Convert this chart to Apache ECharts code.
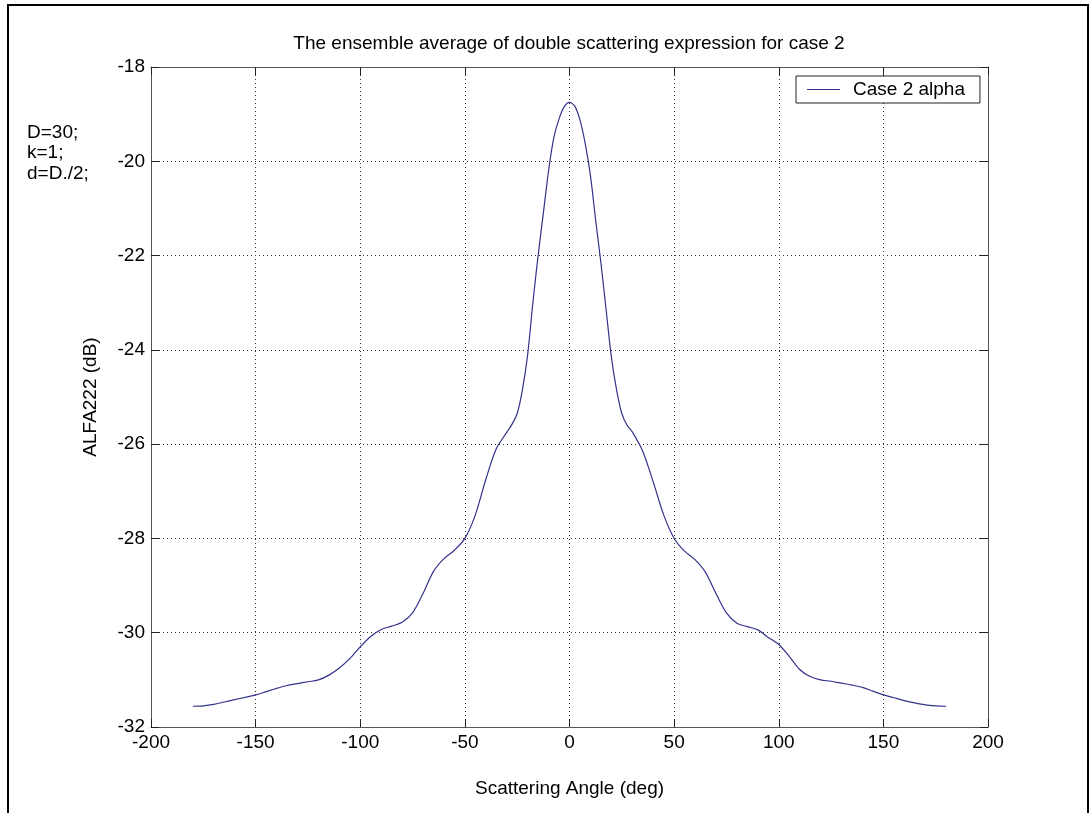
<!DOCTYPE html>
<html>
<head>
<meta charset="utf-8">
<script src="https://cdn.jsdelivr.net/npm/echarts@6/dist/echarts.min.js"></script>
<style>
  html, body { margin: 0; padding: 0; background: #fff; }
  #chart { width: 1092px; height: 813px; }
</style>
</head>
<body>
<div id="chart"></div>
<script>
// Scattering angle (deg) and ensemble-averaged double scattering term (dB)
const angle = [
  -180, -175, -170, -165, -160, -155, -150, -145, -140, -135, -130, -125, -120,
  -115, -110, -105, -100, -95, -90, -85, -80, -75, -70, -65, -60, -55, -50,
  -45, -40, -35, -30, -27.5, -25, -22.5, -20, -17.5, -15, -12.5, -10, -7.5,
  -5, -2.5, 0, 2.5, 5, 7.5, 10, 12.5, 15, 17.5, 20, 22.5, 25, 27.5, 30, 35,
  40, 45, 50, 55, 60, 65, 70, 75, 80, 85, 90, 95, 100, 105, 110, 115, 120,
  125, 130, 135, 140, 145, 150, 155, 160, 165, 170, 175, 180
];
const alfa222 = [
  -31.56, -31.55, -31.52, -31.47, -31.42, -31.37, -31.32, -31.25, -31.18, -31.12, -31.08, -31.04, -31.00,
  -30.90, -30.75, -30.55, -30.30, -30.08, -29.93, -29.86, -29.78, -29.58, -29.17, -28.70, -28.43, -28.25, -28.00,
  -27.50, -26.75, -26.10, -25.75, -25.58, -25.35, -24.85, -24.10, -23.00, -22.00, -21.10, -20.20, -19.50,
  -19.10, -18.84, -18.75, -18.83, -19.12, -19.62, -20.30, -21.25, -22.15, -23.15, -24.15, -24.85, -25.35, -25.60, -25.74, -26.15,
  -26.80, -27.50, -28.00, -28.27, -28.45, -28.72, -29.17, -29.58, -29.80, -29.87, -29.94, -30.10, -30.25, -30.50, -30.78, -30.93, -31.00,
  -31.03, -31.07, -31.11, -31.16, -31.24, -31.32, -31.38, -31.44, -31.49, -31.53, -31.55, -31.56
];
const xTicks = { min: -200, max: 200, step: 50 };
const yTicks = { min: -32, max: -18, step: 2 };
const notes = ['D=30;', 'k=1;', 'd=D./2;'];
const seriesName = 'Case 2 alpha';

const FONT = '"Liberation Sans", Arial, Helvetica, sans-serif';
const chart = echarts.init(document.getElementById('chart'), null, { renderer: 'canvas' });

const gridDots = { show: true, lineStyle: { color: '#333', width: 1, type: [1, 3] } };
const frameLine = { show: true, onZero: false, lineStyle: { color: '#555', width: 1 } };
const innerTicks = { show: true, inside: true, length: 8, lineStyle: { color: '#222', width: 1 } };
const LINE_COLOR = '#33338c';

const option = {
  backgroundColor: '#fff',
  animation: false,
  textStyle: { fontFamily: FONT },
  title: {
    text: 'The ensemble average of double scattering expression for case 2',
    left: 569, top: 34, textAlign: 'center', padding: 0,
    textStyle: { fontFamily: FONT, fontSize: 19, fontWeight: 'normal', color: '#000' }
  },
  legend: {
    left: 796, top: 76,
    padding: [4, 15, 4, 11],
    backgroundColor: '#fff', borderColor: '#222', borderWidth: 1,
    itemWidth: 33, itemHeight: 1,
    icon: 'rect',
    textStyle: { fontFamily: FONT, fontSize: 19, color: '#000', padding: [0, 0, 0, 8] },
    data: [{ name: seriesName, icon: 'rect', itemStyle: { color: LINE_COLOR } }]
  },
  grid: { left: 151, right: 104, top: 67, bottom: 86, containLabel: false },
  xAxis: [{
    type: 'value', position: 'bottom',
    min: xTicks.min, max: xTicks.max, interval: xTicks.step,
    name: 'Scattering Angle (deg)', nameLocation: 'middle', nameGap: 52,
    nameTextStyle: { fontFamily: FONT, fontSize: 19, color: '#000' },
    axisLine: frameLine, axisTick: innerTicks, splitLine: gridDots,
    axisLabel: { fontFamily: FONT, fontSize: 19, color: '#000', margin: 6 }
  }, {
    type: 'value', position: 'top',
    min: xTicks.min, max: xTicks.max, interval: xTicks.step,
    axisLine: frameLine, axisTick: innerTicks, splitLine: { show: false },
    axisLabel: { show: false }
  }],
  yAxis: [{
    type: 'value', position: 'left',
    min: yTicks.min, max: yTicks.max, interval: yTicks.step,
    name: 'ALFA222 (dB)', nameLocation: 'middle', nameGap: 51, nameRotate: 90,
    nameTextStyle: { fontFamily: FONT, fontSize: 19, color: '#000' },
    axisLine: frameLine, axisTick: innerTicks, splitLine: gridDots,
    axisLabel: { fontFamily: FONT, fontSize: 19, color: '#000', margin: 6 }
  }, {
    type: 'value', position: 'right',
    min: yTicks.min, max: yTicks.max, interval: yTicks.step,
    axisLine: frameLine, axisTick: innerTicks, splitLine: { show: false },
    axisLabel: { show: false }
  }],
  series: [{
    name: seriesName,
    type: 'line',
    xAxisIndex: 0, yAxisIndex: 0,
    data: angle.map((a, i) => [a, alfa222[i]]),
    showSymbol: false, symbol: 'none',
    smooth: 0.3,
    lineStyle: { color: LINE_COLOR, width: 1.2 },
    itemStyle: { color: LINE_COLOR }
  }],
  graphic: [
    {
      type: 'rect', silent: true, z: 100,
      shape: { x: 8, y: 5, width: 1080, height: 900 },
      style: { fill: 'none', stroke: '#000', lineWidth: 2 }
    },
    ...notes.map((t, i) => ({
      type: 'text', silent: true,
      left: 27, top: 123 + i * 20.5,
      style: { text: t, font: '19px ' + FONT, fill: '#000' }
    }))
  ]
};
chart.setOption(option);
</script>
</body>
</html>
